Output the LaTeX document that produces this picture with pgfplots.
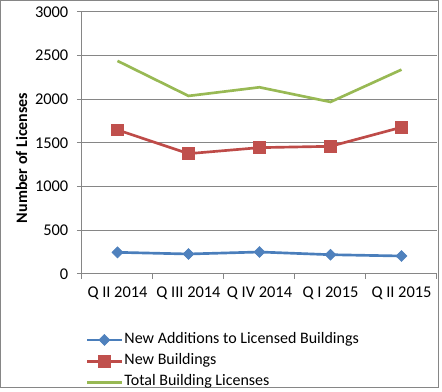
\documentclass[border=0pt]{standalone}
\usepackage{fontspec}
\setmainfont{Carlito}
\usepackage{pgfplots}
\pgfplotsset{compat=1.18}
\definecolor{cblue}{HTML}{4A7EBB}
\definecolor{cbluef}{HTML}{4F81BD}
\definecolor{cred}{HTML}{BE4B48}
\definecolor{credf}{HTML}{C0504D}
\definecolor{cgreen}{HTML}{98B954}
\definecolor{cgrid}{HTML}{868686}
\begin{document}
\begin{tikzpicture}[x=0.75pt,y=0.75pt]
\useasboundingbox (-82,-118) rectangle (360,274);
\draw[cgrid, line width=0.75pt] (-81.5,-113.5) rectangle (356.5,273.5);
\begin{axis}[
 at={(0,0)}, anchor=south west,
 scale only axis, width=266.25pt, height=196.5pt,
 xmin=-0.5, xmax=4.5, ymin=0, ymax=3000,
 xtick={-0.5,0.5,...,4.5}, x tick label as interval,
 xticklabels={Q II 2014, Q III 2014, Q IV 2014, Q I 2015, Q II 2015},
 ytick={0,500,...,3000},
 ymajorgrids, grid style={cgrid, line width=0.75pt},
 axis x line*=bottom, axis y line*=left,
 axis line style={cgrid, line width=0.75pt, -},
 tick align=outside, major tick length=3.75pt,
 tick style={cgrid, line width=0.75pt},
 ticklabel style={font=\fontsize{12.3}{14}\selectfont},
 x tick label style={yshift=-2.5pt},
 y tick label style={xshift=-3pt},
 /pgf/number format/assume math mode=true,
 /pgf/number format/1000 sep={},
 ylabel={Number of Licenses},
 ylabel style={at={(axis description cs:-0.17,0.443)}, anchor=center, font=\fontsize{12}{14}\selectfont\bfseries},
 legend style={at={(axis description cs:0.01,-0.21)}, anchor=north west, draw=none, fill=none, font=\fontsize{12}{14}\selectfont, row sep=0pt, inner sep=0pt, nodes={inner sep=1pt, text height=9.5pt, text depth=4.5pt, anchor=west}},
 legend cell align=left,
 legend image code/.code={\draw[mark repeat=2, mark phase=2, #1] plot coordinates {(0pt,0pt)(13pt,0pt)(26pt,0pt)};},
]
\addplot[cblue, line width=2pt, mark=square*, mark size=2.9pt, mark options={rotate=45, fill=cbluef, draw=cbluef, line width=0.5pt}] coordinates {(0,248)(1,229)(2,252)(3,221)(4,206)};
\addlegendentry{New Additions to Licensed Buildings}
\addplot[cred, line width=2pt, mark=square*, mark size=4.4pt, mark options={fill=credf, draw=credf, line width=0.5pt}] coordinates {(0,1650)(1,1378)(2,1447)(3,1462)(4,1680)};
\addlegendentry{New Buildings}
\addplot[cgreen, line width=2pt, mark=none] coordinates {(0,2440)(1,2039)(2,2138)(3,1970)(4,2340)};
\addlegendentry{Total Building Licenses}
\end{axis}
\end{tikzpicture}
\end{document}
